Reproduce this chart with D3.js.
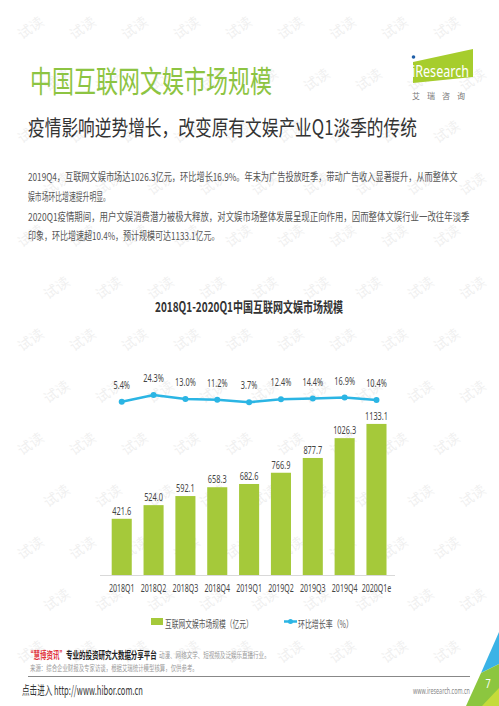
<!DOCTYPE html>
<html><head><meta charset="utf-8">
<script src="https://cdn.jsdelivr.net/npm/d3@7"></script>
<style>
html,body{margin:0;padding:0;background:#fff;}
svg{display:block;}
</style></head>
<body>
<svg id="c" width="499" height="706"></svg>
<script>
const categories = ["2018Q1","2018Q2","2018Q3","2018Q4","2019Q1","2019Q2","2019Q3","2019Q4","2020Q1e"];
const marketSize = [421.6,524.0,592.1,658.3,682.6,766.9,877.7,1026.3,1133.1];
const growthRate = [5.4,24.3,13.0,11.2,3.7,12.4,14.4,16.9,10.4];
const sizeLabels = ["421.6","524.0","592.1","658.3","682.6","766.9","877.7","1026.3","1133.1"];
const rateLabels = ["5.4%","24.3%","13.0%","11.2%","3.7%","12.4%","14.4%","16.9%","10.4%"];
const legendLabels = ["互联网文娱市场规模（亿元）","环比增长率（%）"];

const CJK = "'Noto Sans CJK SC','Noto Sans',sans-serif";
const NUM = "'Noto Sans','Noto Sans CJK SC',sans-serif";
const GREEN = "#a5c93a", CYAN = "#2bb5e4";
const SX = 0.64;

const svg = d3.select("#c");

// place a text at (x,y) and squeeze it horizontally to the given width
function fitText(parent, x, y, w, str, attrs) {
  const t = parent.append("text").text(str);
  Object.entries(attrs).forEach(([k, v]) => t.attr(k, v));
  const nat = t.node().getComputedTextLength();
  const s = nat > 0 ? w / nat : 1;
  t.attr("transform", `translate(${x},${y}) scale(${s},1)`);
  return t;
}

// watermark
const wm = svg.append("g");
for (let r = 0; r < 13; r++) {
  for (let c = 0; c < 9; c++) {
    const x = c * 52 + (r % 2) * 26 + 22, y = r * 52 + 40;
    wm.append("text").attr("transform", `translate(${x},${y}) rotate(-35)`)
      .attr("font-family", CJK).attr("font-size", 14).attr("fill", "#000").attr("opacity", 0.06)
      .text("试读");
  }
}

// header
fitText(svg, 30, 92, 242, "中国互联网文娱市场规模", {"font-family": CJK, "font-size": 30, "fill": "#8dc442"});
fitText(svg, 28, 135, 389, "疫情影响逆势增长，改变原有文娱产业Q1淡季的传统", {"font-family": CJK, "font-size": 21, "fill": "#333"});

// logo
svg.append("polygon").attr("points", "413,62 473,49 473,77 413,83").attr("fill", "#a6cd2d");
svg.append("circle").attr("cx", 413.5).attr("cy", 57).attr("r", 1.8).attr("fill", "#1f5fa8");
fitText(svg, 412, 77, 57, "iResearch", {"font-family": NUM, "font-size": 16, "fill": "#fff"});
svg.append("text").attr("x", 442).attr("y", 99).attr("text-anchor", "middle").attr("font-family", CJK)
  .attr("font-size", 8).attr("fill", "#777").attr("letter-spacing", 7).text("艾瑞咨询");

// body
const body = [
  {t:"2019Q4，互联网文娱市场达1026.3亿元，环比增长16.9%。年末为广告投放旺季，带动广告收入显著提升，从而整体文", y:181, w:430},
  {t:"娱市场环比增速提升明显。", y:201, w:82},
  {t:"2020Q1疫情期间，用户文娱消费潜力被极大释放，对文娱市场整体发展呈现正向作用，因而整体文娱行业一改往年淡季", y:221, w:442},
  {t:"印象，环比增速超10.4%，预计规模可达1133.1亿元。", y:240, w:192}
];
body.forEach(l => fitText(svg, 28, l.y, l.w, l.t, {"font-family": CJK, "font-size": 11, "fill": "#555"}));

// chart title
fitText(svg, 155, 312, 188, "2018Q1-2020Q1中国互联网文娱市场规模",
  {"font-family": CJK, "font-size": 14, "font-weight": "bold", "fill": "#333"});

// scales
const x = d3.scaleBand().domain(categories).range([105.8, 392.4]).paddingInner(0.37).paddingOuter(0.185);
const y = d3.scaleLinear().domain([0, 1200]).range([575, 415]);
const yr = d3.scaleLinear().domain([0, 25]).range([403.6, 394.75]);
const cx = (i) => x(categories[i]) + x.bandwidth()/2;

// bars
svg.append("g").selectAll("rect").data(marketSize).join("rect")
  .attr("x", (d,i) => x(categories[i])).attr("width", x.bandwidth())
  .attr("y", d => y(d)).attr("height", d => y(0) - y(d)).attr("fill", GREEN);
svg.append("g").selectAll("text").data(marketSize).join("text")
  .attr("transform", (d,i) => `translate(${cx(i)},${y(d) - 4}) scale(${SX},1)`)
  .attr("text-anchor", "middle").attr("font-family", NUM).attr("font-size", 11.5).attr("fill", "#444")
  .text((d,i) => sizeLabels[i]);

// axis
const ax = svg.append("g").attr("transform", `translate(0,${y(0)})`)
  .call(d3.axisBottom(x).tickSize(0).tickPadding(9));
ax.select(".domain").attr("stroke", "#d9d9d9").attr("d", "M100,0.5H395");
ax.selectAll("text").attr("font-family", NUM).attr("font-size", 11).attr("fill", "#444")
  .attr("transform", `scale(${SX},1)`);

// line
svg.append("path").datum(growthRate)
  .attr("d", d3.line().x((d,i) => cx(i)).y(d => yr(d)))
  .attr("fill", "none").attr("stroke", CYAN).attr("stroke-width", 2.5);
svg.append("g").selectAll("circle").data(growthRate).join("circle")
  .attr("cx", (d,i) => cx(i)).attr("cy", d => yr(d)).attr("r", 3).attr("fill", CYAN);
svg.append("g").selectAll("text").data(growthRate).join("text")
  .attr("transform", (d,i) => `translate(${cx(i)},${yr(d) - 13}) scale(${SX},1)`)
  .attr("text-anchor", "middle").attr("font-family", NUM).attr("font-size", 11.5).attr("fill", "#444")
  .text((d,i) => rateLabels[i]);

// legend
svg.append("rect").attr("x", 151).attr("y", 618).attr("width", 12).attr("height", 7).attr("fill", GREEN);
fitText(svg, 165, 628, 88, legendLabels[0], {"font-family": CJK, "font-size": 10, "fill": "#555"});
svg.append("line").attr("x1", 284).attr("x2", 297).attr("y1", 621.5).attr("y2", 621.5).attr("stroke", CYAN).attr("stroke-width", 2.5);
svg.append("circle").attr("cx", 290.5).attr("cy", 621.5).attr("r", 2.5).attr("fill", CYAN);
fitText(svg, 298, 628, 55, legendLabels[1], {"font-family": CJK, "font-size": 10, "fill": "#555"});

// footer
fitText(svg, 159, 658, 111, "动漫、网络文学、短视频及泛娱乐直播行业。", {"font-family": CJK, "font-size": 7.5, "fill": "#999"});
fitText(svg, 30, 671, 168, "来源：综合企业财报及专家访谈，根据艾瑞统计模型核算，仅供参考。", {"font-family": CJK, "font-size": 7.5, "fill": "#999"});
const ft = svg.append("text").attr("font-family", CJK).attr("font-size", 10).attr("font-weight", "bold");
ft.append("tspan").attr("fill", "#e0323a").text("“慧博资讯”");
ft.append("tspan").attr("fill", "#222").text("专业的投资研究大数据分享平台");
{
  const nat = ft.node().getComputedTextLength();
  ft.attr("transform", `translate(27,659) scale(${130 / nat},1)`);
}
svg.append("line").attr("x1", 28).attr("x2", 470).attr("y1", 676.5).attr("y2", 676.5).attr("stroke", "#888").attr("stroke-width", 1);
fitText(svg, 22, 695, 121, "点击进入 http://www.hibor.com.cn", {"font-family": CJK, "font-size": 12.5, "fill": "#333"});
fitText(svg, 413, 694, 57, "www.iresearch.com.cn", {"font-family": NUM, "font-size": 9, "fill": "#888"});

// corner decoration
svg.append("polygon").attr("points", "499,632 499,664 481,673").attr("fill", "#3bb3e6");
svg.append("polygon").attr("points", "481,673 499,664 499,706 466,706").attr("fill", "#8cc63f");
svg.append("polygon").attr("points", "482,706 499,688 499,706").attr("fill", "#c5dc3a");
svg.append("text").attr("transform", "translate(488,688) scale(0.7,1)").attr("text-anchor", "middle").attr("font-family", NUM)
  .attr("font-size", 13).attr("fill", "#fff").text("7");
</script>
</body></html>
